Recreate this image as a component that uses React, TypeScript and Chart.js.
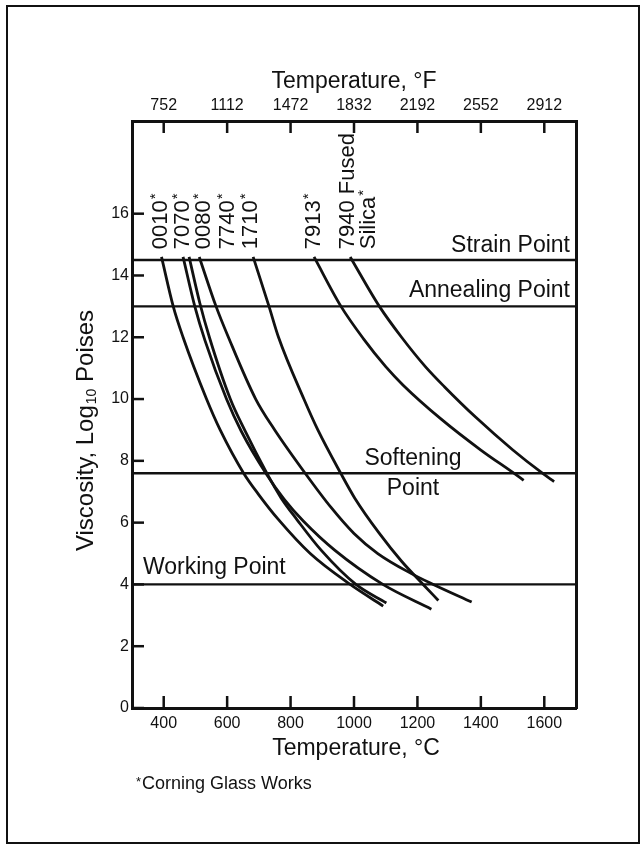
import React, { useEffect, useRef } from "react";
import { Chart, registerables } from "chart.js";

Chart.register(...registerables);

// ---- tick labels ----
const celsiusTicks = [400, 600, 800, 1000, 1200, 1400, 1600];
const fahrenheitTicks = [752, 1112, 1472, 1832, 2192, 2552, 2912];
const viscosityTicks = [0, 2, 4, 6, 8, 10, 12, 14, 16];

// ---- glass viscosity curves (temperature °C, log10 viscosity in poises) ----
const glassNames = ["0010", "7070", "0080", "7740", "1710", "7913", "7940"];

const temp0010 = [393, 430, 461, 535, 578, 652, 700, 760, 862, 988, 1092];
const visc0010 = [14.6, 13.0, 12.0, 10.0, 9.0, 7.6, 6.9, 6.12, 5.0, 4.0, 3.3];

const temp7070 = [461, 498, 530, 598, 645, 722, 780, 840, 940, 1091, 1244];
const visc7070 = [14.6, 13.0, 11.9, 10.0, 8.95, 7.6, 6.75, 6.05, 5.1, 4.0, 3.2];

const temp0080 = [480, 514, 544, 610, 655, 725, 770, 820, 897, 1006, 1102];
const visc0080 = [14.6, 13.1, 12.0, 10.0, 9.0, 7.6, 6.8, 6.1, 5.1, 4.0, 3.4];

const temp7740 = [512, 565, 604, 690, 750, 846, 927, 1000, 1075, 1181, 1250, 1371];
const visc7740 = [14.6, 13.0, 12.0, 10.0, 9.0, 7.6, 6.5, 5.65, 5.0, 4.35, 4.0, 3.43];

const temp1710 = [682, 732, 762, 842, 886, 958, 1002, 1080, 1150, 1218, 1266];
const visc1710 = [14.6, 13.0, 12.0, 10.0, 9.0, 7.6, 6.8, 5.65, 4.75, 4.0, 3.48];

const temp7913 = [874, 959, 1030, 1100, 1155, 1275, 1400, 1504, 1535];
const visc7913 = [14.6, 13.0, 11.95, 11.05, 10.45, 9.35, 8.35, 7.6, 7.37];

const temp7940 = [988, 1080, 1150, 1225, 1285, 1385, 1500, 1594, 1631];
const visc7940 = [14.6, 13.0, 12.0, 11.05, 10.4, 9.4, 8.36, 7.6, 7.33];

// ---- reference viscosity levels ----
const refLevels = [14.5, 13.0, 7.6, 4.0];
const refNames = ["Strain Point", "Annealing Point", "Softening Point", "Working Point"];

// ---- curve label anchor temperatures ----
const labelTemps = [384, 455, 521, 597, 669, 868, 975];
const labelBase = 14.85;

const FONT = '"Liberation Sans", Arial, Helvetica, sans-serif';
const INK = "#111111";

const allTemps = [temp0010, temp7070, temp0080, temp7740, temp1710, temp7913, temp7940];
const allVisc = [visc0010, visc7070, visc0080, visc7740, visc1710, visc7913, visc7940];

function drawStarText(ctx: CanvasRenderingContext2D, text: string, x: number, y: number, size: number, star: boolean) {
  ctx.font = `${size}px ${FONT}`;
  ctx.fillText(text, x, y);
  if (star) {
    const w = ctx.measureText(text).width;
    ctx.font = `${Math.round(size * 0.7)}px ${FONT}`;
    ctx.fillText("*", x + w + 1, y - size * 0.32);
  }
}

const overlayPlugin = {
  id: "overlay",
  afterDraw(chart: any) {
    const { ctx, chartArea: ca, scales } = chart;
    const xs = scales.x;
    const ys = scales.y;
    ctx.save();
    ctx.strokeStyle = INK;
    ctx.fillStyle = INK;
    ctx.lineWidth = 2.5;
    // inward tick marks
    celsiusTicks.forEach((v) => {
      const px = xs.getPixelForValue(v);
      ctx.beginPath();
      ctx.moveTo(px, ca.bottom);
      ctx.lineTo(px, ca.bottom - 12);
      ctx.moveTo(px, ca.top);
      ctx.lineTo(px, ca.top + 12);
      ctx.stroke();
    });
    viscosityTicks.forEach((v) => {
      const py = ys.getPixelForValue(v);
      ctx.beginPath();
      ctx.moveTo(ca.left, py);
      ctx.lineTo(ca.left + 12, py);
      ctx.stroke();
    });

    // curve labels (rotated)
    const capH = 22 * 0.72;
    glassNames.forEach((name, i) => {
      const cx = xs.getPixelForValue(labelTemps[i]);
      const by = ys.getPixelForValue(labelBase);
      ctx.save();
      ctx.translate(cx + capH / 2, by);
      ctx.rotate(-Math.PI / 2);
      ctx.textAlign = "left";
      ctx.textBaseline = "alphabetic";
      if (name === "7940") {
        drawStarText(ctx, "7940 Fused", 0, 0, 22, false);
        drawStarText(ctx, "Silica", 0, 21, 22, true);
      } else {
        drawStarText(ctx, name, 0, 0, 22, true);
      }
      ctx.restore();
    });

    // reference line labels
    ctx.font = `23px ${FONT}`;
    ctx.textBaseline = "alphabetic";
    const pStrain = ys.getPixelForValue(refLevels[0]);
    const pAnneal = ys.getPixelForValue(refLevels[1]);
    const pSoft = ys.getPixelForValue(refLevels[2]);
    const pWork = ys.getPixelForValue(refLevels[3]);
    ctx.textAlign = "right";
    ctx.fillText(refNames[0], ca.right - 6, pStrain - 8);
    ctx.fillText(refNames[1], ca.right - 6, pAnneal - 9);
    ctx.textAlign = "center";
    const softX = xs.getPixelForValue(1186);
    const [softA, softB] = refNames[2].split(" ");
    ctx.fillText(softA, softX, pSoft - 8);
    ctx.fillText(softB, softX, pSoft + 22);
    ctx.textAlign = "left";
    ctx.fillText(refNames[3], ca.left + 11, pWork - 10);

    // axis titles
    const midX = (ca.left + ca.right) / 2;
    ctx.font = `23px ${FONT}`;
    ctx.textAlign = "center";
    ctx.fillText("Temperature, \u00B0F", midX, ca.top - 33);
    ctx.fillText("Temperature, \u00B0C", midX + 2, ca.bottom + 47);

    // footnote
    ctx.textAlign = "left";
    ctx.font = `13px ${FONT}`;
    ctx.fillText("*", ca.left + 4, ca.bottom + 78);
    ctx.font = `18px ${FONT}`;
    ctx.fillText("Corning Glass Works", ca.left + 10, ca.bottom + 81);

    // y axis title
    ctx.save();
    ctx.translate(93, (ca.top + ca.bottom) / 2 + 16);
    ctx.rotate(-Math.PI / 2);
    ctx.textAlign = "left";
    ctx.font = `24px ${FONT}`;
    const t1 = "Viscosity, Log";
    const w1 = ctx.measureText(t1).width;
    ctx.font = `14px ${FONT}`;
    const t2 = "10";
    const w2 = ctx.measureText(t2).width;
    ctx.font = `24px ${FONT}`;
    const t3 = " Poises";
    const w3 = ctx.measureText(t3).width;
    const total = w1 + w2 + 1 + w3;
    let x0 = -total / 2;
    ctx.fillText(t1, x0, 0);
    x0 += w1 + 1;
    ctx.font = `14px ${FONT}`;
    ctx.fillText(t2, x0, 3);
    x0 += w2;
    ctx.font = `24px ${FONT}`;
    ctx.fillText(t3, x0, 0);
    ctx.restore();

    ctx.restore();
  },
};

export default function App() {
  const canvasRef = useRef<HTMLCanvasElement | null>(null);

  useEffect(() => {
    const canvas = canvasRef.current;
    if (!canvas) return;

    const curveSets = glassNames.map((name, i) => ({
      label: name,
      data: allTemps[i].map((t, j) => ({ x: t, y: allVisc[i][j] })),
      borderColor: INK,
      borderWidth: 2.8,
      pointRadius: 0,
      fill: false,
      cubicInterpolationMode: "monotone" as const,
      xAxisID: "x",
      yAxisID: "y",
    }));
    const refSets = refLevels.map((lvl, i) => ({
      label: refNames[i],
      data: [
        { x: 300, y: lvl },
        { x: 1700, y: lvl },
      ],
      borderColor: INK,
      borderWidth: 2.4,
      pointRadius: 0,
      fill: false,
      xAxisID: "x",
      yAxisID: "y",
    }));

    const tickFont = { family: FONT, size: 16 };
    const chart = new Chart(canvas, {
      type: "line",
      data: { datasets: [...refSets, ...curveSets] as any },
      options: {
        responsive: false,
        animation: false,
        layout: { padding: 0 },
        plugins: { legend: { display: false }, tooltip: { enabled: false } },
        scales: {
          x: {
            type: "linear",
            position: "bottom",
            min: 300,
            max: 1700,
            afterBuildTicks: (s: any) => {
              s.ticks = celsiusTicks.map((v) => ({ value: v }));
            },
            afterFit: (s: any) => {
              s.height = 141;
            },
            grid: { display: false, drawTicks: false },
            border: { display: true, color: INK, width: 3 },
            ticks: {
              color: INK,
              font: tickFont,
              padding: 6,
              maxRotation: 0,
              autoSkip: false,
              callback: (v: any) => String(v),
            },
          },
          x2: {
            type: "linear",
            position: "top",
            min: 300,
            max: 1700,
            afterBuildTicks: (s: any) => {
              s.ticks = celsiusTicks.map((v) => ({ value: v }));
            },
            afterFit: (s: any) => {
              s.height = 121;
            },
            grid: { display: false, drawTicks: false },
            border: { display: true, color: INK, width: 3 },
            ticks: {
              color: INK,
              font: tickFont,
              padding: 6,
              maxRotation: 0,
              autoSkip: false,
              callback: (_v: any, i: number) => String(fahrenheitTicks[i]),
            },
          },
          y: {
            type: "linear",
            position: "left",
            min: 0,
            max: 19,
            afterBuildTicks: (s: any) => {
              s.ticks = viscosityTicks.map((v) => ({ value: v }));
            },
            afterFit: (s: any) => {
              s.width = 132;
            },
            grid: { display: false, drawTicks: false },
            border: { display: true, color: INK, width: 3 },
            ticks: { color: INK, font: tickFont, padding: 3, autoSkip: false },
          },
          y2: {
            type: "linear",
            position: "right",
            min: 0,
            max: 19,
            afterFit: (s: any) => {
              s.width = 66;
            },
            grid: { display: false, drawTicks: false },
            border: { display: true, color: INK, width: 3 },
            ticks: { display: false },
          },
        },
      } as any,
      plugins: [overlayPlugin],
    });

    return () => {
      chart.destroy();
    };
  }, []);

  return (
    <div
      style={{
        position: "fixed",
        left: 0,
        top: 0,
        width: 642,
        height: 849,
        background: "#ffffff",
      }}
    >
      <div
        style={{
          position: "absolute",
          left: 6,
          top: 5,
          width: 634,
          height: 839,
          border: "2px solid #111",
          boxSizing: "border-box",
        }}
      />
      <canvas
        ref={canvasRef}
        width={642}
        height={849}
        style={{ position: "absolute", left: 0, top: 0, width: 642, height: 849 }}
      />
    </div>
  );
}
